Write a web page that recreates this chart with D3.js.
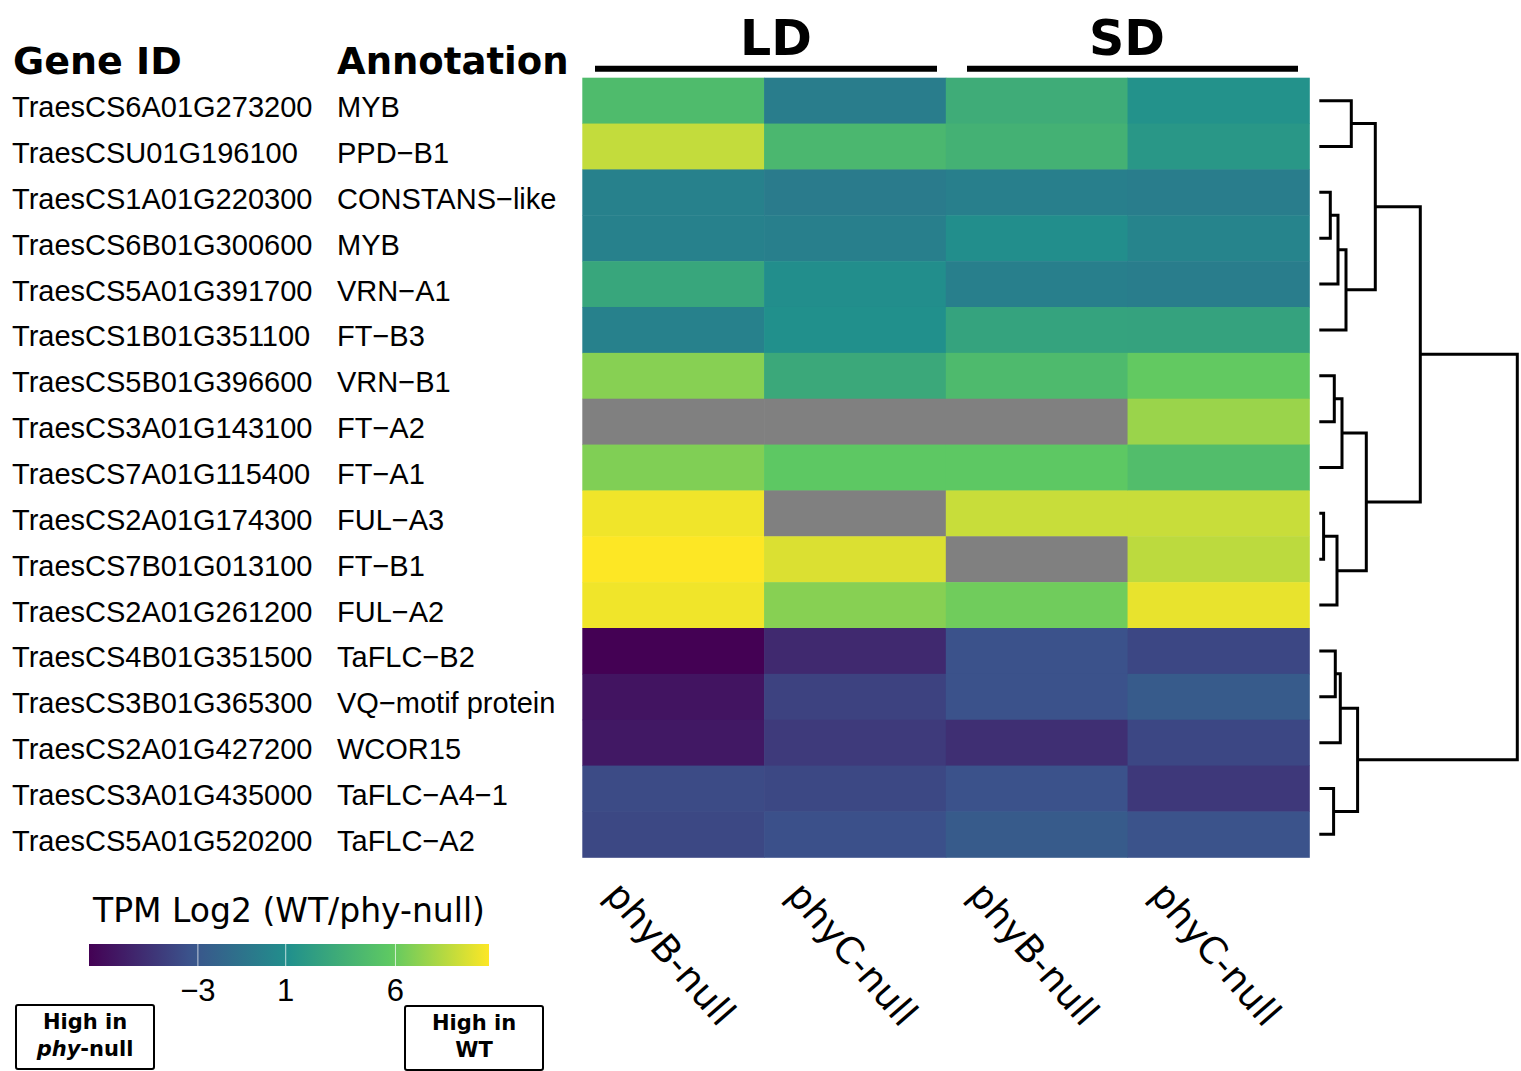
<!DOCTYPE html>
<html>
<head>
<meta charset="utf-8">
<script src="https://cdn.jsdelivr.net/npm/d3@7"></script>
<style>
  body { margin: 0; background: #fff; }
</style>
</head>
<body>
<div id="svg_chart"></div>
<script>
///////////// Data //////////////
var gene_ids = ['TraesCS6A01G273200', 'TraesCSU01G196100', 'TraesCS1A01G220300', 'TraesCS6B01G300600',
  'TraesCS5A01G391700', 'TraesCS1B01G351100', 'TraesCS5B01G396600', 'TraesCS3A01G143100',
  'TraesCS7A01G115400', 'TraesCS2A01G174300', 'TraesCS7B01G013100', 'TraesCS2A01G261200',
  'TraesCS4B01G351500', 'TraesCS3B01G365300', 'TraesCS2A01G427200', 'TraesCS3A01G435000',
  'TraesCS5A01G520200'];
var annotations = ['MYB', 'PPD\u2212B1', 'CONSTANS\u2212like', 'MYB', 'VRN\u2212A1', 'FT\u2212B3', 'VRN\u2212B1',
  'FT\u2212A2', 'FT\u2212A1', 'FUL\u2212A3', 'FT\u2212B1', 'FUL\u2212A2', 'TaFLC\u2212B2', 'VQ\u2212motif protein',
  'WCOR15', 'TaFLC\u2212A4\u22121', 'TaFLC\u2212A2'];
var col_labels = ['phyB-null', 'phyC-null', 'phyB-null', 'phyC-null'];
var groups = ['LD', 'SD'];

// log2(WT/phy-null) per gene, columns: LD phyB, LD phyC, SD phyB, SD phyC  (null = NA)
var ld_phyB = [4.65, 8.6, 0.05, 0.05, 2.9, 0.05, 6.9, null, 6.7, 9.9, 10.26, 9.9, -7.96, -6.9, -6.65, -3.8, -3.95];
var ld_phyC = [-0.25, 4.35, -0.4, -0.1, 1.0, 1.15, 3.1, null, 5.7, null, 9.3, 6.9, -5.7, -4.3, -4.75, -3.95, -3.5];
var sd_phyB = [3.4, 3.8, -0.1, 1.0, -0.1, 2.7, 4.6, null, 5.7, 8.75, null, 6.25, -3.4, -3.4, -5.4, -3.4, -2.75];
var sd_phyC = [1.3, 1.75, -0.25, 0.27, -0.25, 2.65, 5.85, 7.45, 4.85, 8.75, 8.4, 9.65, -4.0, -2.75, -4.0, -4.85, -3.35];

var color_min = -7.96, color_max = 10.26;
var palette = ['#440154', '#3B528B', '#21908C', '#5DC863', '#FDE725'];
var legend_ticks = [-3, 1, 6];

// row dendrogram, hclust style: negative = leaf (1-based row), positive = earlier step
var dendro_merge = [[-10, -11], [-3, -4], [-16, -17], [-7, -8], [-13, -14], [-12, 1], [2, -5], [5, -15],
  [4, -9], [7, -6], [-1, -2], [8, 3], [9, 6], [11, 10], [14, 13], [15, 12]];
var dendro_height = [0.43, 1.1, 1.43, 1.5, 1.6, 1.77, 1.87, 2.1, 2.27, 2.67, 3.2, 3.83, 4.7, 5.6, 10.1, 19.8];

///////////// Layout //////////////
const svg_width = 1521, svg_height = 1071;
const heat_left = 582.3, heat_right = 1309.3, heat_top = 77.7, heat_bottom = 857.3;

var svg = d3.select('#svg_chart').append('svg')
  .attr('width', svg_width)
  .attr('height', svg_height);

var columns = [ld_phyB, ld_phyC, sd_phyB, sd_phyC];
var cells = [];
columns.forEach(function(col, j) {
  col.forEach(function(v, i) { cells.push({row: i, col: j, value: v}); });
});

var x_scale = d3.scaleBand().domain(d3.range(4)).range([heat_left, heat_right]);
var y_scale = d3.scaleBand().domain(d3.range(gene_ids.length)).range([heat_top, heat_bottom]);
// colour ramp through 5 viridis anchors, interpolated in RGB
var color = d3.scaleLinear()
  .domain(d3.range(palette.length).map(i => color_min + i * (color_max - color_min) / (palette.length - 1)))
  .range(palette)
  .interpolate(d3.interpolateRgb);

// heatmap cells
svg.append('g').selectAll('rect').data(cells).enter().append('rect')
  .attr('x', d => x_scale(d.col))
  .attr('y', d => y_scale(d.row))
  .attr('width', x_scale.bandwidth() + 0.5)
  .attr('height', y_scale.bandwidth() + 0.5)
  .attr('fill', d => d.value === null ? '#808080' : color(d.value));

// row labels
var label_font = '"Liberation Sans", Arial, sans-serif';
svg.append('g').selectAll('text').data(gene_ids).enter().append('text')
  .attr('x', 12)
  .attr('y', (d, i) => y_scale(i) + y_scale.bandwidth() / 2 + 16.5)
  .style('font-family', label_font)
  .style('font-size', '29px')
  .text(d => d);
svg.append('g').selectAll('text').data(annotations).enter().append('text')
  .attr('x', 337)
  .attr('y', (d, i) => y_scale(i) + y_scale.bandwidth() / 2 + 16.5)
  .style('font-family', label_font)
  .style('font-size', '29px')
  .text(d => d);

// headers
var bold_font = '"DejaVu Sans", Verdana, sans-serif';
svg.append('text').attr('x', 13).attr('y', 74)
  .style('font-family', bold_font).style('font-weight', 'bold').style('font-size', '38px')
  .text('Gene ID');
svg.append('text').attr('x', 337).attr('y', 74)
  .style('font-family', bold_font).style('font-weight', 'bold').style('font-size', '37px')
  .text('Annotation');

// LD / SD group labels and bars
var group_bars = [[595, 937], [967, 1298]];
var group_label_x = [776, 1127];
groups.forEach(function(g, k) {
  var b = group_bars[k];
  svg.append('line')
    .attr('x1', b[0]).attr('x2', b[1])
    .attr('y1', 68.7).attr('y2', 68.7)
    .attr('stroke', 'black').attr('stroke-width', 6);
  svg.append('text')
    .attr('x', group_label_x[k])
    .attr('y', 55)
    .attr('text-anchor', 'middle')
    .style('font-family', bold_font).style('font-weight', 'bold').style('font-size', '49px')
    .text(g);
});

// column labels
svg.append('g').selectAll('text').data(col_labels).enter().append('text')
  .attr('transform', (d, j) => `translate(${x_scale(j) + 21},896) rotate(49)`)
  .style('font-family', bold_font)
  .style('font-size', '37px')
  .text(d => d);

///////////// Dendrogram //////////////
var dendro_x = d3.scaleLinear().domain([0, d3.max(dendro_height)]).range([1319.3, 1517.3]);
var nodes = [];
function node_pos(id) {
  if (id < 0) return {x: dendro_x(0), y: y_scale(-id - 1) + y_scale.bandwidth() / 2};
  return nodes[id - 1];
}
var dendro = svg.append('g')
  .attr('fill', 'none')
  .attr('stroke', 'black')
  .attr('stroke-width', 3);
dendro_merge.forEach(function(m, s) {
  var a = node_pos(m[0]), b = node_pos(m[1]);
  var hx = dendro_x(dendro_height[s]);
  nodes.push({x: hx, y: (a.y + b.y) / 2});
  dendro.append('path')
    .attr('d', `M${a.x},${a.y}H${hx}V${b.y}H${b.x}`);
});

///////////// Legend //////////////
var bar_left = 89, bar_right = 489, bar_top = 944, bar_height = 22;
var legend_x = d3.scaleLinear().domain([color_min, color_max]).range([bar_left, bar_right]);

svg.append('text').attr('x', 93).attr('y', 922)
  .style('font-family', bold_font).style('font-size', '33px')
  .text('TPM Log2 (WT/phy-null)');

var grad = svg.append('defs').append('linearGradient').attr('id', 'viridis_grad');
palette.forEach(function(c, i) {
  grad.append('stop')
    .attr('offset', (i * 100 / (palette.length - 1)) + '%')
    .attr('stop-color', c);
});
svg.append('rect')
  .attr('x', bar_left).attr('y', bar_top)
  .attr('width', bar_right - bar_left).attr('height', bar_height)
  .attr('fill', 'url(#viridis_grad)');

svg.append('g').selectAll('line').data(legend_ticks).enter().append('line')
  .attr('x1', d => legend_x(d)).attr('x2', d => legend_x(d))
  .attr('y1', bar_top).attr('y2', bar_top + bar_height)
  .attr('stroke', 'white').attr('stroke-opacity', 0.7).attr('stroke-width', 1);
svg.append('g').selectAll('text').data(legend_ticks).enter().append('text')
  .attr('x', d => legend_x(d))
  .attr('y', 1001)
  .attr('text-anchor', 'middle')
  .style('font-family', label_font).style('font-size', '31px')
  .text(d => d < 0 ? '\u2212' + Math.abs(d) : d);

// "High in" boxes
function high_box(x, y, lines) {
  svg.append('rect')
    .attr('x', x).attr('y', y).attr('width', 138).attr('height', 64)
    .attr('rx', 2)
    .attr('fill', 'white').attr('stroke', 'black').attr('stroke-width', 2);
  lines.forEach(function(parts, k) {
    var t = svg.append('text')
      .attr('x', x + 69).attr('y', y + 24 + k * 27)
      .attr('text-anchor', 'middle')
      .style('font-family', bold_font).style('font-weight', 'bold').style('font-size', '21px');
    parts.forEach(function(p) {
      t.append('tspan').style('font-style', p[1] ? 'italic' : 'normal').text(p[0]);
    });
  });
}
high_box(16, 1005, [[['High in', false]], [['phy', true], ['-null', false]]]);
high_box(405, 1006, [[['High in', false]], [['WT', false]]]);
</script>
</body>
</html>
